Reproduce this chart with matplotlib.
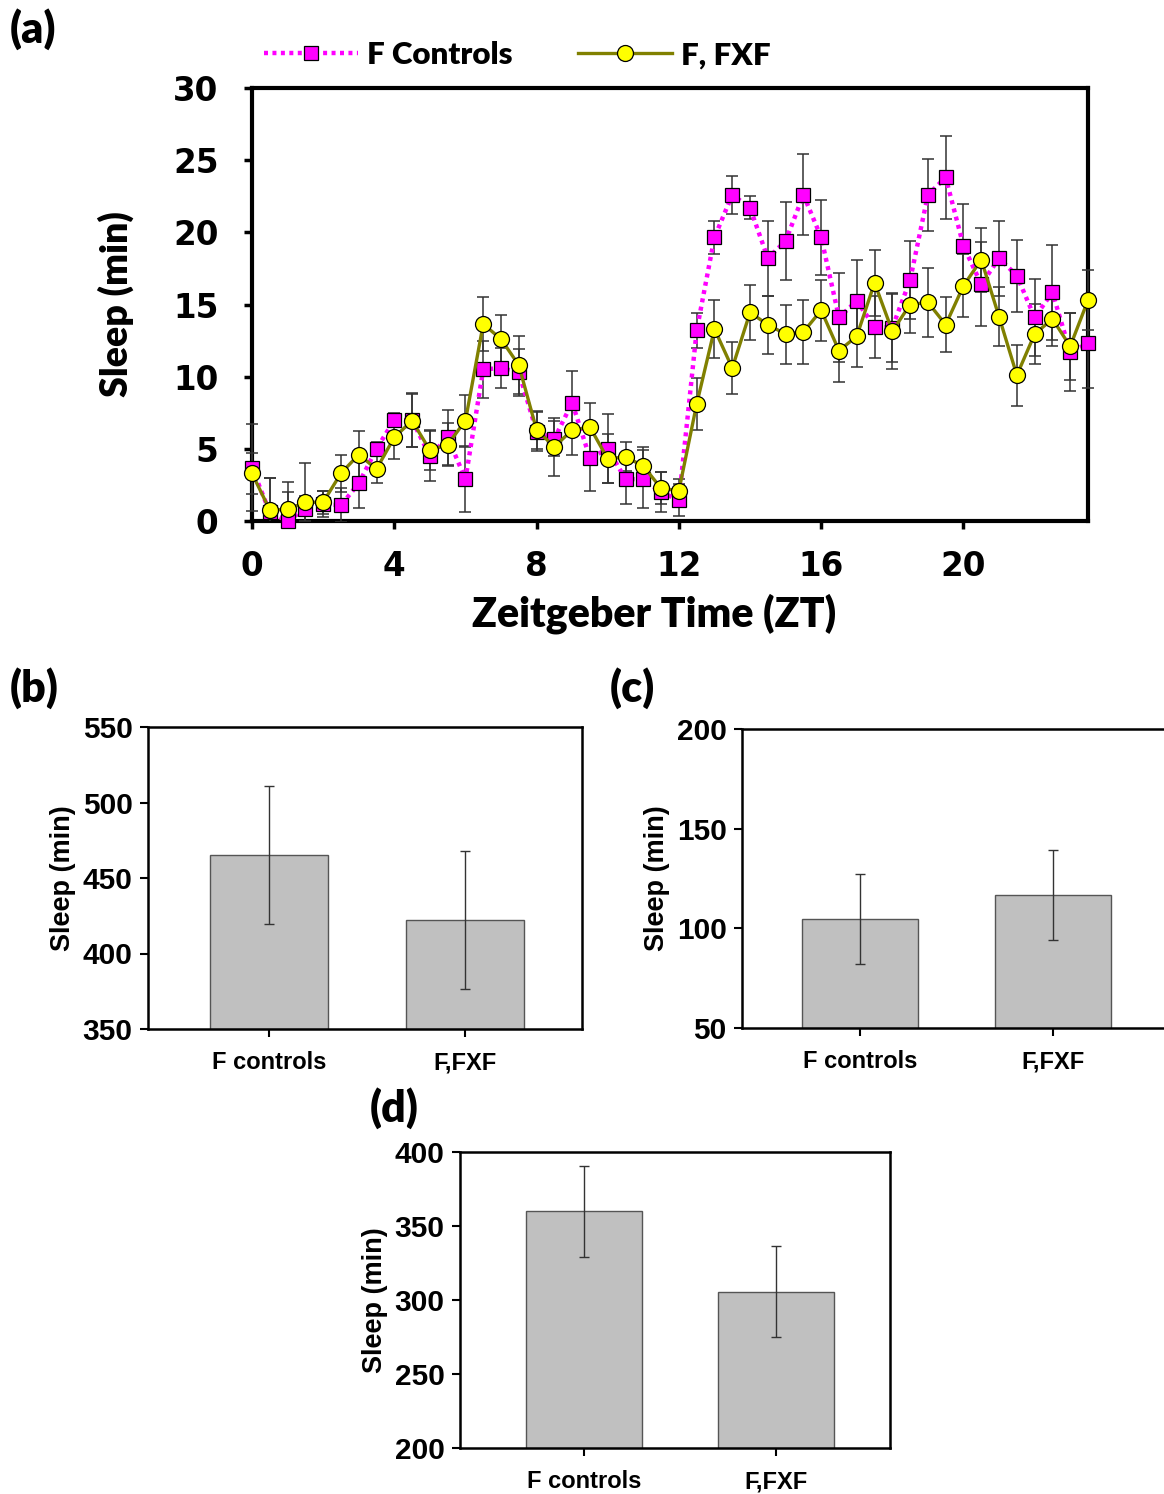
import numpy as np
import matplotlib
matplotlib.use('Agg')
import matplotlib.pyplot as plt
from matplotlib.patches import Rectangle

# panel (a): sleep per 30 min bin over the day
zt = [0, 0.5, 1, 1.5, 2, 2.5, 3, 3.5, 4, 4.5, 5, 5.5, 6, 6.5, 7, 7.5,
      8, 8.5, 9, 9.5, 10, 10.5, 11, 11.5, 12, 12.5, 13, 13.5, 14, 14.5, 15, 15.5,
      16, 16.5, 17, 17.5, 18, 18.5, 19, 19.5, 20, 20.5, 21, 21.5, 22, 22.5, 23, 23.5]

ctrl_mean = [3.7, 0.6, 0.0, 0.85, 1.15, 1.1, 2.6, 5.0, 7.0, 7.0, 4.5, 5.8, 2.9, 10.5, 10.6, 10.3,
             6.2, 5.7, 8.2, 4.35, 5.0, 2.9, 2.9, 2.0, 1.45, 13.2, 19.65, 22.6, 21.7, 18.2, 19.4, 22.6,
             19.65, 14.1, 15.25, 13.45, 13.4, 16.7, 22.6, 23.8, 19.05, 16.4, 18.2, 17.0, 14.1, 15.85, 11.7, 12.3]
ctrl_err = [3.0, 2.4, 2.0, 0.85, 0.9, 1.2, 1.7, 0.5, 0.5, 1.85, 1.75, 1.9, 2.25, 2.0, 1.4, 1.65,
            1.35, 1.2, 2.2, 2.3, 2.4, 1.75, 2.0, 1.4, 1.1, 1.2, 1.15, 1.3, 0.8, 2.6, 2.7, 2.8,
            2.6, 3.1, 2.8, 2.15, 2.4, 2.7, 2.5, 2.9, 2.9, 2.9, 2.6, 2.5, 2.7, 3.3, 2.7, 3.1]

fxf_mean = [3.3, 0.76, 0.8, 1.3, 1.3, 3.3, 4.6, 3.6, 5.8, 6.95, 4.9, 5.3, 6.95, 13.65, 12.6, 10.8,
            6.3, 5.15, 6.3, 6.5, 4.3, 4.45, 3.8, 2.27, 2.1, 8.1, 13.3, 10.6, 14.45, 13.6, 12.95, 13.1,
            14.6, 11.8, 12.8, 16.5, 13.15, 15.0, 15.15, 13.6, 16.3, 18.1, 14.15, 10.1, 12.95, 14.0, 12.1, 15.3]
fxf_err = [1.4, 2.2, 1.9, 2.7, 0.8, 1.3, 1.65, 1.0, 1.5, 1.85, 1.4, 1.5, 1.75, 1.9, 1.7, 2.0,
           1.3, 2.0, 1.7, 1.7, 1.7, 1.0, 1.35, 1.1, 0.8, 1.8, 2.0, 1.8, 1.9, 2.0, 2.05, 2.2,
           2.1, 2.2, 2.15, 2.3, 2.6, 2.0, 2.4, 1.9, 2.2, 2.2, 2.05, 2.1, 2.1, 1.9, 2.3, 2.1]

# panels (b), (c), (d): totals
groups = ['F controls', 'F,FXF']
total_mean = [465, 422.5]
total_err = [45.6, 45.7]
day_mean = [104.7, 116.7]
day_err = [22.6, 22.6]
night_mean = [360, 305.5]
night_err = [30.7, 30.7]

W, H = 1164, 1494
fig = plt.figure(figsize=(W / 100, H / 100), dpi=100)


def fbox(l, t, r, b):
    return [l / W, 1 - b / H, (r - l) / W, (b - t) / H]


LABEL_FONT = 'Lato'
TICK_FONT = 'DejaVu Sans'

# ---- (a) ----
ax = fig.add_axes(fbox(252, 88, 1088, 521))
# clip error bars at the x axis but let the caps at both ends stick out sideways
clip_box = Rectangle((-0.03, 0), 1.06, 1.0, transform=ax.transAxes, facecolor='none', edgecolor='none')
ax.add_patch(clip_box)
for m, e in ((ctrl_mean, ctrl_err), (fxf_mean, fxf_err)):
    eb = ax.errorbar(zt, m, yerr=e, fmt='none', ecolor='#333333', elinewidth=1.1,
                     capsize=4.5, capthick=1.1, zorder=2)
    for art in eb.lines[1] + eb.lines[2]:
        art.set_clip_path(clip_box)
ax.plot(zt, ctrl_mean, linestyle=(0, (0.9, 1.0)), color='#FF00FF', lw=3.2, marker='s',
        markersize=10.5, markerfacecolor='#FF00FF', markeredgecolor='#000000', markeredgewidth=0.9,
        label='F Controls', zorder=3, clip_on=False)
ax.plot(zt, fxf_mean, linestyle='-', color='#808000', lw=2.4, marker='o',
        markersize=11.5, markerfacecolor='#FFFF00', markeredgecolor='#000000', markeredgewidth=0.9,
        label='F, FXF', zorder=4, clip_on=False)
ax.set_xlim(0, 23.5)
ax.set_ylim(0, 30)
ax.set_xticks([0, 4, 8, 12, 16, 20])
ax.set_yticks([0, 5, 10, 15, 20, 25, 30])
for s in ax.spines.values():
    s.set_linewidth(3)
    s.set_zorder(1)
ax.tick_params(axis='x', direction='out', length=6, width=2.5, pad=15)
ax.tick_params(axis='y', direction='out', length=6, width=2.5, pad=18)
for lab in ax.get_xticklabels() + ax.get_yticklabels():
    lab.set_fontfamily(TICK_FONT)
    lab.set_fontweight('bold')
    lab.set_fontsize(23.5)
ax.set_xlabel('Zeitgeber Time (ZT)', fontfamily=LABEL_FONT, fontweight='heavy', fontsize=29.5)
ax.xaxis.set_label_coords(0.4815, -0.168)
ax.set_ylabel('Sleep (min)', fontfamily=LABEL_FONT, fontweight='heavy', fontsize=27, labelpad=28)
ax.legend(loc='lower left', bbox_to_anchor=(-0.008, 1.0), ncol=2, frameon=False,
          prop={'family': LABEL_FONT, 'weight': 'heavy', 'size': 22.5},
          handlelength=3.0, handletextpad=0.3, columnspacing=2.1, borderaxespad=0.2)

fig.text(10 / W, 1 - 29 / H, '(a)', fontfamily=LABEL_FONT, fontweight='heavy', fontsize=31,
         ha='left', va='center')


# ---- bar panels ----
def bar_panel(box, means, errs, ylim, yticks, xlim, tag, tag_xy):
    bx = fig.add_axes(fbox(*box))
    bx.bar([0, 1], means, width=0.6, color='#C0C0C0', edgecolor='#555555', linewidth=1.0, zorder=2)
    bx.errorbar([0, 1], means, yerr=errs, fmt='none', ecolor='#333333', elinewidth=1.0,
                capsize=3.5, capthick=1.0, zorder=3)
    bx.set_xlim(*xlim)
    bx.set_ylim(*ylim)
    bx.set_yticks(yticks)
    bx.set_xticks([0, 1])
    bx.set_xticklabels(groups)
    for s in bx.spines.values():
        s.set_linewidth(1.8)
    bx.tick_params(axis='x', direction='out', length=6, width=1.5, pad=10)
    bx.tick_params(axis='y', direction='out', length=6, width=1.5, pad=5)
    for lab in bx.get_yticklabels():
        lab.set_fontfamily('Liberation Sans')
        lab.set_fontweight('bold')
        lab.set_fontsize(21.5)
    for lab in bx.get_xticklabels():
        lab.set_fontfamily('Liberation Sans')
        lab.set_fontweight('bold')
        lab.set_fontsize(17)
    bx.set_ylabel('Sleep (min)', fontfamily='Liberation Sans', fontweight='bold', fontsize=19.5, labelpad=5)
    fig.text(tag_xy[0] / W, 1 - tag_xy[1] / H, tag, fontfamily=LABEL_FONT, fontweight='heavy',
             fontsize=31, ha='left', va='center')
    return bx


bar_panel((148, 727, 582, 1029), total_mean, total_err, (350, 550), [350, 400, 450, 500, 550],
          (-0.617, 1.597), '(b)', (10, 688))
bar_panel((742, 729, 1168, 1028), day_mean, day_err, (50, 200), [50, 100, 150, 200],
          (-0.611, 1.597), '(c)', (610, 688))
bar_panel((460, 1152, 890, 1448), night_mean, night_err, (200, 400), [200, 250, 300, 350, 400],
          (-0.646, 1.594), '(d)', (370, 1108))

fig.savefig('out.png', dpi=100)
